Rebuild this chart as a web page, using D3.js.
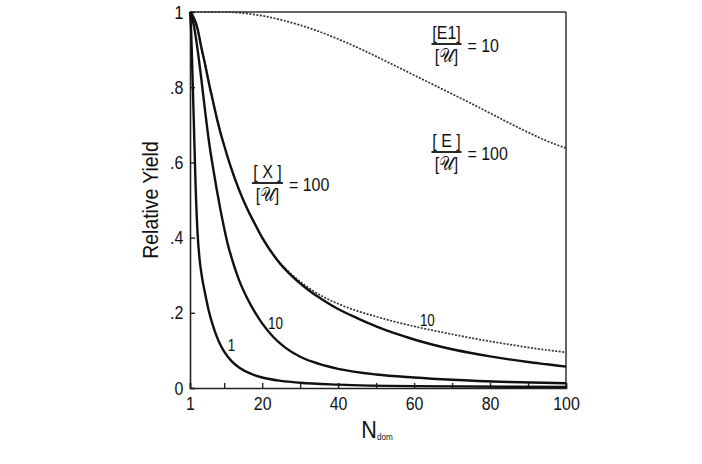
<!DOCTYPE html>
<html><head><meta charset="utf-8">
<script src="https://cdn.jsdelivr.net/npm/d3@7"></script>
<style>
body{margin:0;background:#fff;}
text{font-family:"Liberation Sans",Arial,sans-serif;fill:#111;}
</style></head>
<body>
<svg id="chart" width="702" height="464"></svg>
<script>
// ---- data ----
const xDomain = [1, 100];
const yDomain = [0, 1];
const xTickValues = [1, 10, 20, 30, 40, 50, 60, 70, 80, 90, 100];
const xTickLabels = ["1", "", "20", "", "40", "", "60", "", "80", "", "100"];
const yTickValues = [0, 0.2, 0.4, 0.6, 0.8, 1];
const yTickLabels = ["0", ".2", ".4", ".6", ".8", "1"];

// solid curves: [X]/[U] = 1, 10, 100
const solidX1 = [[1,1],[1.3,0.95],[1.6,0.85],[2,0.71],[2.5,0.53],[3,0.41],[3.5,0.345],[4,0.305],[5,0.25],[6,0.203],[7,0.167],[8,0.138],[9,0.115],[10,0.097],[12,0.071],[14,0.054],[17,0.038],[20,0.028],[25,0.019],[30,0.014],[40,0.009],[60,0.005],[100,0.003]];
const solidX10 = [[1,1],[2,0.965],[3,0.9],[4,0.82],[5,0.735],[6,0.655],[7,0.59],[8,0.53],[9,0.475],[10,0.425],[11,0.38],[12,0.345],[14,0.285],[16,0.24],[18,0.203],[20,0.172],[23,0.135],[26,0.108],[30,0.083],[35,0.064],[40,0.051],[50,0.036],[60,0.028],[70,0.022],[85,0.016],[100,0.0125]];
const solidX100 = [[1,1],[2,0.985],[3,0.955],[4,0.905],[5,0.86],[6,0.81],[7,0.765],[8,0.72],[9,0.68],[10,0.645],[12,0.58],[14,0.525],[16,0.478],[18,0.438],[20,0.4],[24,0.34],[28,0.296],[32,0.262],[36,0.234],[40,0.21],[45,0.186],[50,0.164],[55,0.145],[60,0.129],[65,0.115],[70,0.103],[75,0.093],[80,0.084],[85,0.076],[90,0.069],[95,0.063],[100,0.057]];
// dotted curves: [E]/[U] = 10, 100
const dottedE10 = [[1,1],[2,0.985],[3,0.955],[4,0.905],[5,0.86],[6,0.81],[7,0.765],[8,0.72],[9,0.68],[10,0.645],[12,0.58],[14,0.525],[16,0.478],[18,0.438],[20,0.4],[24,0.341],[28,0.3],[32,0.268],[36,0.243],[40,0.224],[45,0.205],[50,0.19],[55,0.176],[60,0.164],[65,0.153],[70,0.143],[75,0.133],[80,0.124],[85,0.116],[90,0.108],[95,0.101],[100,0.095]];
const dottedE100 = [[1,1],[10,1],[15,0.997],[20,0.99],[25,0.979],[30,0.965],[35,0.948],[40,0.928],[45,0.906],[50,0.882],[55,0.857],[60,0.832],[65,0.807],[70,0.782],[75,0.757],[80,0.731],[85,0.705],[90,0.68],[95,0.657],[100,0.638]];

const curveLabels = [
  {text:"1", x:11.9, y:0.112},
  {text:"10", x:23.5, y:0.172},
  {text:"10", x:63.5, y:0.178}
];

// ---- drawing ----
const svg = d3.select("#chart");
const x = d3.scaleLinear().domain(xDomain).range([190, 566]);
const y = d3.scaleLinear().domain(yDomain).range([388, 12]);
const SX = 0.84; // condensed look

const line = d3.line().x(d => x(d[0])).y(d => y(d[1])).curve(d3.curveMonotoneX);

// condensed text helper
function ctext(g, px, py, size, str, anchor) {
  return g.append("text").attr("transform", `translate(${px},${py}) scale(${SX},1)`)
    .attr("text-anchor", anchor || "middle").attr("dominant-baseline", "central")
    .attr("font-size", size).text(str);
}

// frame
svg.append("line").attr("x1", x(1)).attr("x2", x(100)).attr("y1", y(1)).attr("y2", y(1))
  .attr("stroke", "#333").attr("stroke-width", 1.5);
svg.append("line").attr("x1", x(100)).attr("x2", x(100)).attr("y1", y(1)).attr("y2", y(0))
  .attr("stroke", "#333").attr("stroke-width", 1.5);

const xAxis = svg.append("g").attr("transform", `translate(0,${y(0)})`)
  .call(d3.axisBottom(x).tickValues(xTickValues)
    .tickFormat((d, i) => xTickLabels[i]).tickSize(-5).tickPadding(9));
const yAxis = svg.append("g").attr("transform", `translate(${x(1)},0)`)
  .call(d3.axisLeft(y).tickValues(yTickValues)
    .tickFormat((d, i) => yTickLabels[i]).tickSize(-5).tickPadding(8));
[xAxis, yAxis].forEach(g => {
  g.select(".domain").attr("stroke", "#222").attr("stroke-width", 1.6);
  g.selectAll(".tick line").attr("stroke", "#222").attr("stroke-width", 1.4);
  g.selectAll(".tick text").attr("font-size", 19).attr("fill", "#111")
    .attr("transform", `scale(${SX},1)`)
    .style("font-family", '"Liberation Sans",Arial,sans-serif');
});

// curves
[dottedE100, dottedE10].forEach(s => {
  svg.append("path").datum(s).attr("d", line).attr("fill", "none")
    .attr("stroke", "#333").attr("stroke-width", 1.7).attr("stroke-dasharray", "2,1.5");
});
[solidX1, solidX10, solidX100].forEach(s => {
  svg.append("path").datum(s).attr("d", line).attr("fill", "none")
    .attr("stroke", "#111").attr("stroke-width", 2.4);
});

curveLabels.forEach(d => ctext(svg, x(d.x), y(d.y), 16, d.text));

// fraction annotations
function fraction(cx, cy, num, den, right, w) {
  const g = svg.append("g");
  ctext(g, cx, cy - 11, 19, num);
  g.append("line").attr("x1", cx - w / 2).attr("x2", cx + w / 2).attr("y1", cy).attr("y2", cy)
    .attr("stroke", "#111").attr("stroke-width", 1.8);
  ctext(g, cx, cy + 12, 19, den);
  ctext(g, cx + w / 2 + 6, cy + 2, 19, right, "start");
}
fraction(267.5, 183, "[ X ]", "[𝒰]", "= 100", 31);
fraction(446.5, 44, "[E1]", "[𝒰]", "= 10", 30);
fraction(446.5, 152, "[ E ]", "[𝒰]", "= 100", 30);

// axis titles
svg.append("text").attr("transform", "translate(150,200) rotate(-90) scale(0.88,1)")
  .attr("text-anchor", "middle").attr("dominant-baseline", "central")
  .attr("font-size", 22).text("Relative Yield");
const xt = svg.append("text").attr("transform", "translate(377,438) scale(0.9,1)")
  .attr("text-anchor", "middle");
xt.append("tspan").attr("font-size", 24).text("N");
xt.append("tspan").attr("font-size", 9).attr("dy", 2).text("dom");
</script>
</body></html>
